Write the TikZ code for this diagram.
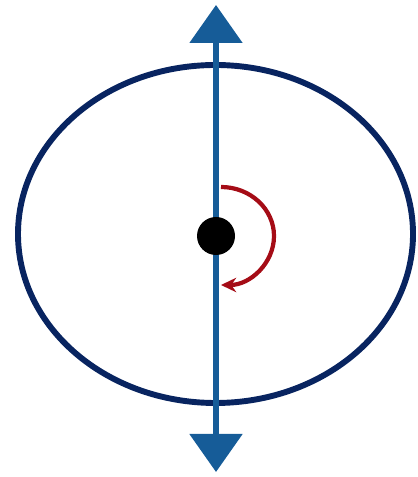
\documentclass[tikz,border=0pt]{standalone}
\usepackage{xcolor}
\usepackage{tikz}
\usetikzlibrary{arrows.meta, positioning}

\definecolor{rimnavy}{RGB}{8,36,96}
\definecolor{axisblue}{RGB}{22,92,152}
\definecolor{turnred}{RGB}{165,12,22}

\begin{document}
\begin{tikzpicture}[
        x=0.025cm, y=0.025cm,
        rimline/.style={draw=rimnavy, line width=4.2pt},
        axisline/.style={draw=axisblue, line width=3.8pt, {Triangle[width=1.3cm, length=0.95cm]}-{Triangle[width=1.3cm, length=0.95cm]}},
        pivotdot/.style={circle, fill=black, inner sep=0pt, minimum width=0.95cm, minimum height=0.85cm},
        turnarrow/.style={draw=turnred, line width=3pt, -{Stealth[length=0.38cm, width=0.36cm]}}
    ]
        \useasboundingbox (0,0) rectangle (418,477);

        % Orbit
        \draw[rimline] (215.5,243) ellipse [x radius=197.5, y radius=169];

        % Axis
        \coordinate (axtop) at (216,472);
        \coordinate (axbot) at (216,5);
        \draw[axisline] (axbot) -- (axtop);

        % Pivot and turn
        \node[pivotdot] (pivot) at (216,241) {};
        \coordinate (turnstart) at (221,290);
        \draw[turnarrow] (turnstart) arc [start angle=90, end angle=-90, x radius=53, y radius=49];
    \end{tikzpicture}
\end{document}
